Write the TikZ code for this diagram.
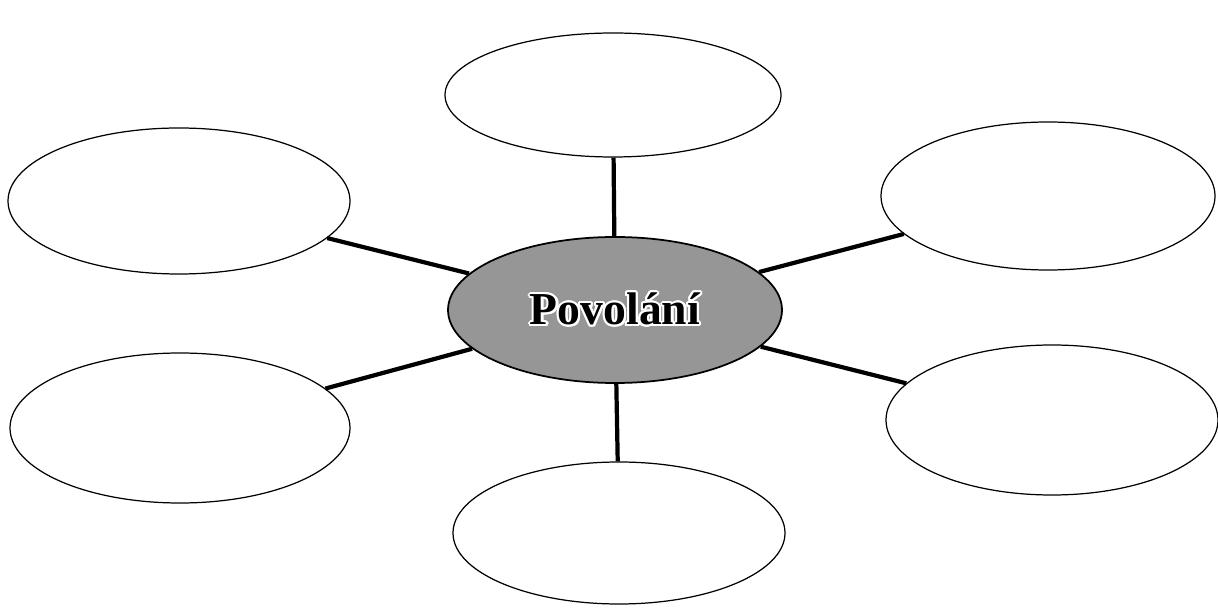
\documentclass[tikz,border=0pt]{standalone}
\usepackage{fontspec}
\setmainfont{Liberation Serif}
\usepackage{contour}
\usetikzlibrary{shapes.geometric}
\begin{document}
\begin{tikzpicture}
% Define colors
\definecolor{centrefill}{RGB}{150, 150, 150}
\contourlength{1.2pt}

\tikzset{
  bubble/.style={ellipse, draw, line width=0.7pt, fill=white, inner sep=0pt},
  spoke/.style={line width=2.4pt}
}

\useasboundingbox (0, 0) rectangle (24.36, 12.18);

% Centre
\node[bubble, fill=centrefill, line width=1pt, minimum width=6.68cm, minimum height=2.92cm] (povolani) at (12.30, 5.98)
  {\fontsize{26}{30}\selectfont\bfseries\contour{white}{Povolání}};

% Outer bubbles
\node[bubble, minimum width=6.72cm, minimum height=2.48cm] (top) at (12.26, 10.28) {};
\node[bubble, minimum width=6.84cm, minimum height=2.92cm] (upleft) at (3.58, 8.16) {};
\node[bubble, minimum width=6.68cm, minimum height=2.96cm] (upright) at (20.96, 8.26) {};
\node[bubble, minimum width=6.80cm, minimum height=3.00cm] (lowleft) at (3.60, 3.62) {};
\node[bubble, minimum width=6.64cm, minimum height=3.00cm] (lowright) at (21.04, 3.78) {};
\node[bubble, minimum width=6.64cm, minimum height=2.84cm] (bottom) at (12.38, 1.52) {};

% Spokes
\foreach \n in {top, upleft, upright, lowleft, lowright, bottom}
  \draw[spoke] (povolani) -- (\n);

\end{tikzpicture}
\end{document}
